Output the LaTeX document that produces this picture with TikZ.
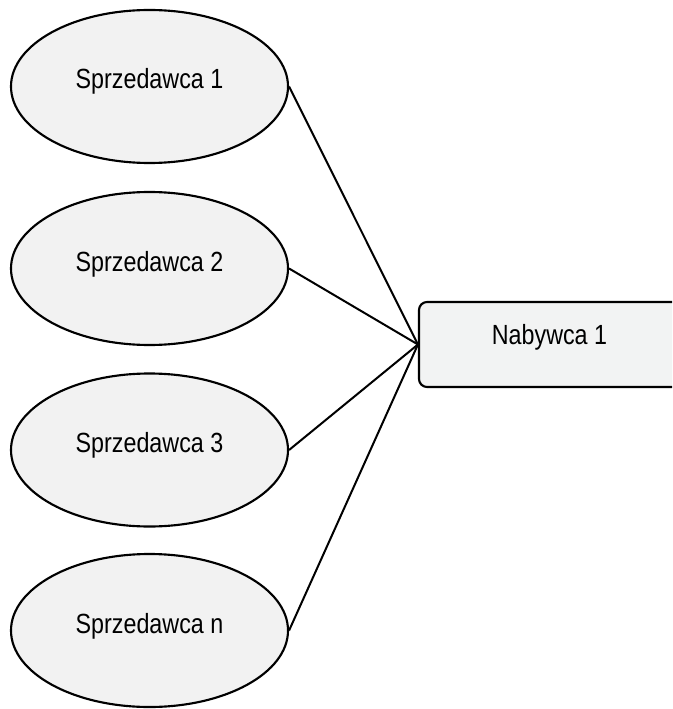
\documentclass[tikz,border=0pt]{standalone}
\usepackage{fontspec}
\setmainfont{Liberation Sans}
\newfontfamily\lblfont[FakeStretch=0.84]{Liberation Sans}
\usetikzlibrary{shapes.geometric}

\tikzset{
  seller/.style={ellipse, draw=black, line width=1.6pt, fill=sellerfill,
    minimum width=207.75pt, minimum height=114.75pt, inner sep=0pt},
  buyer/.style={rectangle, rounded corners=6pt, draw=black, line width=1.6pt,
    fill=buyerfill, minimum width=195.75pt, minimum height=63.75pt, inner sep=0pt},
  lbl/.style={anchor=base, inner sep=0pt, font=\lblfont\fontsize{20.8}{24}\selectfont},
  link/.style={draw=black, line width=1.5pt}
}
\definecolor{sellerfill}{HTML}{F2F2F2}
\definecolor{buyerfill}{HTML}{F2F3F3}

\begin{document}
\begin{tikzpicture}[x=0.75pt, y=-0.75pt]
  \useasboundingbox (0,0) rectangle (672,709);
  \clip (0,0) rectangle (672,709);

  % sellers
  \node[seller] (s1) at (149.5,86.5) {};
  \node[seller] (s2) at (149.5,268.5) {};
  \node[seller] (s3) at (149.5,450) {};
  \node[seller] (sn) at (149.5,630.5) {};

  \node[lbl] (t1) at (149.5,89) {Sprzedawca 1};
  \node[lbl] (t2) at (149.5,271.5) {Sprzedawca 2};
  \node[lbl] (t3) at (149.5,452.5) {Sprzedawca 3};
  \node[lbl] (tn) at (149.5,633) {Sprzedawca n};

  % buyer
  \node[buyer] (b1) at (549.5,344.5) {};
  \node[lbl] (tb) at (549.5,344) {Nabywca 1};

  % links seller -> buyer
  \draw[link] (s1.east) -- (b1.west);
  \draw[link] (s2.east) -- (b1.west);
  \draw[link] (s3.east) -- (b1.west);
  \draw[link] (sn.east) -- (b1.west);
\end{tikzpicture}
\end{document}
